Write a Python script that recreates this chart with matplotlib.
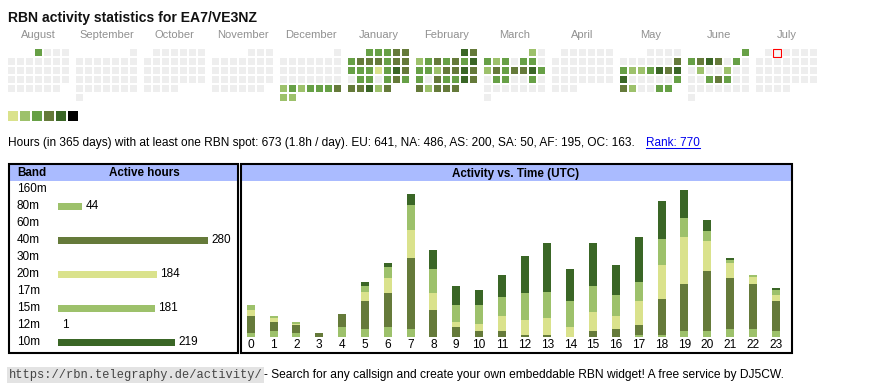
import datetime as dt
import matplotlib
matplotlib.use("Agg")
import matplotlib.pyplot as plt
from matplotlib.patches import Rectangle
from matplotlib.lines import Line2D
import matplotlib.transforms as mtransforms

plt.rcParams['font.family'] = ['Liberation Sans', 'DejaVu Sans']

W, H, DPI = 870, 390, 100

# ---------------- data ----------------
title = "RBN activity statistics for EA7/VE3NZ"
month_names = ["August", "September", "October", "November", "December", "January",
               "February", "March", "April", "May", "June", "July"]
month_years = [(2024, 8), (2024, 9), (2024, 10), (2024, 11), (2024, 12), (2025, 1),
               (2025, 2), (2025, 3), (2025, 4), (2025, 5), (2025, 6), (2025, 7)]
# activity level per day (0 = none, 1..6 = colour level), one character per day
aug_levels = "3000000000000000000000000000000"
sep_levels = "000000000000000000000000000000"
oct_levels = "0000000000000000000000000000000"
nov_levels = "000000000000000000000000000000"
dec_levels = "0000000000000000000000232333422"
jan_levels = "3334434443443331354033034344524"
feb_levels = "5423434353324454304335442444"
mar_levels = "2032303302434453033003000000000"
apr_levels = "000000000000000000000000000000"
may_levels = "0000000000432235455000003420033"
jun_levels = "334540300200200003430000000000"
jul_levels = "0000000000000000000000000000000"
today = dt.date(2025, 7, 2)
level_colors = ["#eeeeee", "#dae28c", "#9dc16b", "#67a046", "#657a3a", "#3a6626", "#000000"]

bands = ["160m", "80m", "60m", "40m", "30m", "20m", "17m", "15m", "12m", "10m"]
band_hours = [0, 44, 0, 280, 0, 184, 0, 181, 1, 219]
band_colors = ["none", "#9dc16b", "none", "#657a3a", "none",
               "#dae28c", "none", "#9dc16b", "none", "#3a6626"]

utc_hours = list(range(24))
hours_80m = [2, 3, 2, 0, 5, 4, 5, 4, 0, 0, 0, 0, 0, 0, 0, 0, 0, 1, 1, 3, 3, 4, 4, 3]
hours_40m = [9, 5, 4, 2, 7, 15, 18, 38, 14, 5, 3, 3, 1, 1, 0, 3, 4, 5, 19, 25, 32, 27, 24, 16]
hours_20m = [3, 2, 1, 0, 0, 5, 8, 15, 9, 3, 4, 8, 8, 9, 5, 10, 7, 13, 18, 25, 16, 8, 4, 3]
hours_15m = [3, 1, 1, 0, 0, 3, 6, 13, 13, 9, 10, 10, 14, 14, 14, 14, 11, 10, 14, 10, 5, 2, 1, 3]
hours_10m = [0, 0, 0, 0, 0, 2, 2, 6, 10, 10, 8, 12, 20, 26, 17, 23, 16, 24, 20, 15, 6, 1, 0, 1]
stack_series = [hours_80m, hours_40m, hours_20m, hours_15m, hours_10m]
stack_colors = ["#9dc16b", "#657a3a", "#dae28c", "#9dc16b", "#3a6626"]

info_text = "Hours (in 365 days) with at least one RBN spot: 673 (1.8h / day). EU: 641, NA: 486, AS: 200, SA: 50, AF: 195, OC: 163."
rank_text = "Rank: 770"
footer_url = "https://rbn.telegraphy.de/activity/"
footer_text = "- Search for any callsign and create your own embeddable RBN widget! A free service by DJ5CW."

# ---------------- figure ----------------
fig = plt.figure(figsize=(W / DPI, H / DPI), dpi=DPI)
fig.patch.set_facecolor("white")
ax0 = fig.add_axes([0, 0, 1, 1])
ax0.set_xlim(0, W)
ax0.set_ylim(H, 0)
ax0.axis("off")
renderer = fig.canvas.get_renderer()


def fit(t, target_w):
    for _ in range(3):
        w = t.get_window_extent(renderer).width
        t.set_fontsize(t.get_fontsize() * target_w / w)


def px_rect(x0, y0, x1, y1):
    return [x0 / W, 1 - y1 / H, (x1 - x0) / W, (y1 - y0) / H]


# title
t = ax0.text(8, 21.7, title, fontsize=11, fontweight="bold", ha="left", va="baseline", color="#111111")
fit(t, 250)

# calendar
CAL_X, CAL_Y, PITCH, CELL, MONTH_PITCH = 8, 49, 9, 7, 68
all_levels = [aug_levels, sep_levels, oct_levels, nov_levels, dec_levels, jan_levels,
              feb_levels, mar_levels, apr_levels, may_levels, jun_levels, jul_levels]
for m, ((yr, mo), levels) in enumerate(zip(month_years, all_levels)):
    x0 = CAL_X + m * MONTH_PITCH
    first_wd = dt.date(yr, mo, 1).weekday()
    ax0.text(x0 + (7 * PITCH - 2) / 2, 38.3, month_names[m], ha="center", va="baseline",
             fontsize=8, color="#909090")
    for d, ch in enumerate(levels):
        row, col = divmod(d + first_wd, 7)
        date = dt.date(yr, mo, d + 1)
        lv = int(ch)
        if date == today:
            ax0.add_patch(Rectangle((x0 + col * PITCH - 0.5, CAL_Y + row * PITCH - 0.5), CELL + 1, CELL + 1,
                                    facecolor="#f6f6f6", edgecolor="#ff0000", lw=0.8))
        else:
            ax0.add_patch(Rectangle((x0 + col * PITCH, CAL_Y + row * PITCH), CELL, CELL,
                                    facecolor=level_colors[lv], edgecolor="none"))

# colour legend
for i, c in enumerate(level_colors[1:]):
    ax0.add_patch(Rectangle((8 + 12 * i, 111), 10, 10, facecolor=c, edgecolor="none"))

# info line
t = ax0.text(8, 146, info_text, fontsize=8, ha="left", va="baseline", color="black")
fit(t, 632)
t2 = ax0.text(646, 146, rank_text, fontsize=8, ha="left", va="baseline", color="#0000ee")
fit(t2, 54)
ax0.add_line(Line2D([646, 700], [147.5, 147.5], color="#0000ee", lw=0.75))

# boxes
for (bx0, bx1) in [(9, 238.3), (241, 792.3)]:
    ax0.add_patch(Rectangle((bx0, 165), bx1 - bx0, 16, facecolor="#aabbff", edgecolor="none"))
    ax0.add_patch(Rectangle((bx0, 164.3), bx1 - bx0, 352.7 - 164.3, facecolor="none",
                            edgecolor="black", lw=1.5, zorder=5))
ax0.text(17, 173.5, "Band", fontsize=8.4, fontweight="bold", ha="left", va="center")
ax0.text(144, 173.5, "Active hours", fontsize=8.4, fontweight="bold", ha="center", va="center")
ax0.text(516, 173.5, "Activity vs. Time (UTC)", fontsize=8.4, fontweight="bold", ha="center", va="center")

# band table
PX_PER_HOUR_B = 0.5346
bx = fig.add_axes(px_rect(10, 181, 237, 350.7))
bx.set_facecolor("none")
bx.set_xlim(-(58.3 - 10) / PX_PER_HOUR_B, (237 - 58.3) / PX_PER_HOUR_B)
bx.set_ylim(9.49, -0.49)
bx.axis("off")
ypos = list(range(len(bands)))
bx.barh(ypos, band_hours, height=0.43, color=band_colors, left=0)
lbl_tr = mtransforms.blended_transform_factory(bx.transAxes, bx.transData)
for yi, (b, v) in enumerate(zip(bands, band_hours)):
    bx.text((16.7 - 10) / 227, yi, b, transform=lbl_tr, ha="left", va="center", fontsize=8.5)
    if v > 0:
        bx.annotate(str(v), (v, yi), xytext=(2.5, 0), textcoords="offset points",
                    ha="left", va="center", fontsize=8.5)

# activity vs time
PX_PER_HOUR_A = 1.88
PX_PER_SLOT = 22.83
ax = fig.add_axes(px_rect(242.7, 181, 790.7, 336.7))
ax.set_facecolor("none")
ax.set_xlim(-(250.7 - 242.7) / PX_PER_SLOT, 23 + (790.7 - 775.8) / PX_PER_SLOT)
ax.set_ylim(0, (336.7 - 181) / PX_PER_HOUR_A)
bottom = [0] * 24
for series, c in zip(stack_series, stack_colors):
    ax.bar(utc_hours, series, width=8 / PX_PER_SLOT, bottom=bottom, color=c, linewidth=0)
    bottom = [b + s for b, s in zip(bottom, series)]
for s in ax.spines.values():
    s.set_visible(False)
ax.set_yticks([])
ax.set_xticks(utc_hours)
ax.set_xticklabels([str(h) for h in utc_hours], fontsize=8.6)
ax.tick_params(axis="x", length=0, pad=1.5)

# footer
t = ax0.text(9, 378, footer_url, family=["Liberation Mono", "DejaVu Sans Mono"], fontsize=8.6,
             ha="left", va="baseline", color="#444444",
             bbox=dict(facecolor="#e3e3e3", edgecolor="none", pad=1.2))
fit(t, 251)
t = ax0.text(264, 378, footer_text, fontsize=8, ha="left", va="baseline", color="black")
fit(t, 519)

fig.savefig("out.png", dpi=DPI)
